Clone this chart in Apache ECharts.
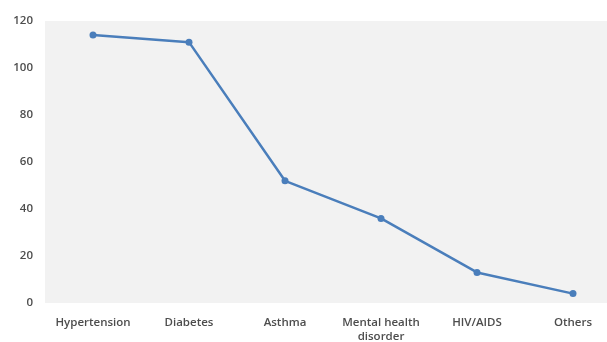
<!DOCTYPE html>
<html><head><meta charset="utf-8">
<script src="https://cdn.jsdelivr.net/npm/echarts@6/dist/echarts.min.js"></script>
<style>html,body{margin:0;padding:0;background:#fff}#c{width:607px;height:342px}</style>
</head><body><div id="c"></div>
<script>
const categories = ['Hypertension', 'Diabetes', 'Asthma', 'Mental health\ndisorder', 'HIV/AIDS', 'Others'];
const values = [114, 111, 52, 36, 13, 4];
const yTicks = [0, 20, 40, 60, 80, 100, 120];

const chart = echarts.init(document.getElementById('c'));
chart.setOption({
  animation: false,
  grid: { left: 45, right: -14, top: 21, bottom: 39, show: true, backgroundColor: '#f2f2f2', borderWidth: 0,
          containLabel: false, outerBoundsMode: 'none' },
  xAxis: {
    type: 'category', data: categories, boundaryGap: true,
    axisLine: { show: false }, axisTick: { show: false },
    axisLabel: { color: '#4d4d4d', fontFamily: 'Open Sans', fontSize: 11.5, fontWeight: 600, margin: 13, lineHeight: 14, interval: 0 }
  },
  yAxis: {
    type: 'value', min: yTicks[0], max: yTicks[yTicks.length - 1], interval: 20,
    splitLine: { show: false }, axisLine: { show: false }, axisTick: { show: false },
    axisLabel: { color: '#4d4d4d', fontFamily: 'Open Sans', fontSize: 11.5, fontWeight: 600, margin: 12 }
  },
  series: [{
    type: 'line', data: values,
    lineStyle: { color: '#4a7ebb', width: 2.5 },
    itemStyle: { color: '#4a7ebb' },
    symbol: 'circle', symbolSize: 7
  }]
});
</script></body></html>
